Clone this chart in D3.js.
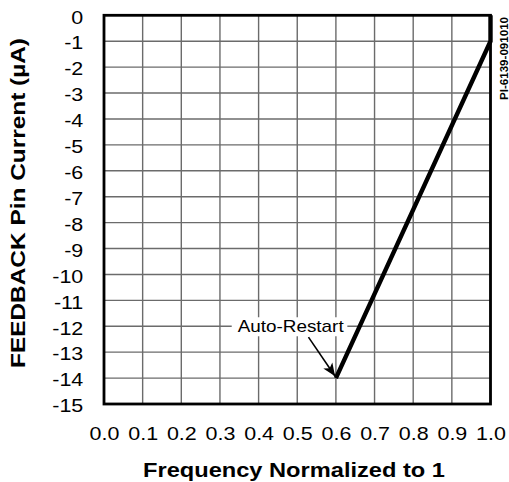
<!DOCTYPE html>
<html><head><meta charset="utf-8">
<script src="https://cdn.jsdelivr.net/npm/d3@7"></script>
<style>body{margin:0;background:#fff}svg{display:block}text{font-family:"Liberation Sans",Arial,sans-serif}</style>
</head><body>
<svg id="c" width="509" height="482"></svg>
<script>
const xTicks = [0,0.1,0.2,0.3,0.4,0.5,0.6,0.7,0.8,0.9,1.0];
const yTicks = [0,-1,-2,-3,-4,-5,-6,-7,-8,-9,-10,-11,-12,-13,-14,-15];
const freq = [0.6, 1.0, 1.0];
const current = [-14, -1, 0];
const annotation = {text:"Auto-Restart", x:0.483, y:-12};
const xTitle = "Frequency Normalized to 1";
const yTitle = "FEEDBACK Pin Current (\u00b5A)";
const partId = "PI-6139-091010";

const STRETCH = 1.16;
function stretch(sel, k){
  sel.each(function(){
    const w = this.getComputedTextLength();
    d3.select(this).attr("textLength", w*(k||STRETCH)).attr("lengthAdjust","spacingAndGlyphs");
  });
}

const svg = d3.select("#c");
const L=104, R=490.5, T=15.3, B=404;
const x = d3.scaleLinear().domain([0,1]).range([L,R]);
const y = d3.scaleLinear().domain([0,-15]).range([T,B]);

// grid
const g = svg.append("g");
g.selectAll(".vx").data(xTicks).join("line")
  .attr("x1",d=>x(d)).attr("x2",d=>x(d)).attr("y1",T).attr("y2",B)
  .attr("stroke","#6b6b6b").attr("stroke-width",1.4);
g.selectAll(".hy").data(yTicks).join("line")
  .attr("x1",L).attr("x2",R).attr("y1",d=>y(d)).attr("y2",d=>y(d))
  .attr("stroke","#6b6b6b").attr("stroke-width",1.4);

// annotation background & text
const at = svg.append("text").attr("x",x(annotation.x)).attr("y",y(annotation.y)+6)
  .attr("text-anchor","middle").attr("font-size",17).text(annotation.text);
stretch(at, 1.11);
const bb = at.node().getBBox();
svg.insert("rect","text").attr("x",bb.x-6).attr("y",bb.y).attr("width",bb.width+9.4).attr("height",bb.height).attr("fill","#fff");

// border
svg.append("rect").attr("x",L).attr("y",T).attr("width",R-L).attr("height",B-T)
  .attr("fill","none").attr("stroke","#000").attr("stroke-width",2.8);

// data line
const pts = freq.map((f,i)=>[f,current[i]]);
svg.append("path").datum(pts)
  .attr("d",d3.line().x(d=>x(d[0])).y(d=>y(d[1])))
  .attr("fill","none").attr("stroke","#000").attr("stroke-width",4.4).attr("stroke-linejoin","miter");

// arrow
const defs = svg.append("defs");
defs.append("marker").attr("id","ah").attr("viewBox","0 0 10 10").attr("refX",10).attr("refY",5)
  .attr("markerWidth",13).attr("markerHeight",13).attr("markerUnits","userSpaceOnUse").attr("orient","auto")
  .append("path").attr("d","M0,0.8 L10,5 L0,9.2 L2.5,5 Z").attr("fill","#000");
svg.append("line").attr("x1",x(0.529)).attr("y1",y(-12.42)).attr("x2",x(0.598)).attr("y2",y(-13.93))
  .attr("stroke","#000").attr("stroke-width",1.6).attr("marker-end","url(#ah)");

// axes
const xa = svg.append("g").attr("transform",`translate(0,${B})`)
  .call(d3.axisBottom(x).tickValues(xTicks).tickFormat(d3.format(".1f")).tickSize(0).tickPadding(23));
const ya = svg.append("g").attr("transform",`translate(${L},0)`)
  .call(d3.axisLeft(y).tickValues(yTicks).tickFormat(d=>d===0?"0":"-"+Math.abs(d)).tickSize(0).tickPadding(20.7));
[xa,ya].forEach(a=>{a.select(".domain").remove();a.selectAll("text").attr("font-size",18.5).attr("fill","#000")
  .attr("font-family","'Liberation Sans',Arial,sans-serif");});
ya.selectAll("text").attr("dy","0.42em");
xa.selectAll("text").attr("dy","0.71em");
stretch(xa.selectAll("text"));
stretch(ya.selectAll("text"));

// titles
const xt = svg.append("text").attr("x",294).attr("y",477).attr("text-anchor","middle")
  .attr("font-size",19.5).attr("font-weight","bold").text(xTitle);
xt.attr("textLength",302).attr("lengthAdjust","spacingAndGlyphs");
const yt = svg.append("text").attr("transform",`translate(24.5,203) rotate(-90)`).attr("text-anchor","middle")
  .attr("font-size",19.5).attr("font-weight","bold").text(yTitle);
yt.attr("textLength",330).attr("lengthAdjust","spacingAndGlyphs");
svg.append("text").attr("transform",`translate(508.3,17) rotate(-90)`).attr("text-anchor","end")
  .attr("font-size",10.5).attr("font-weight","bold").text(partId)
  .attr("textLength",83).attr("lengthAdjust","spacingAndGlyphs");
</script>
</body></html>
